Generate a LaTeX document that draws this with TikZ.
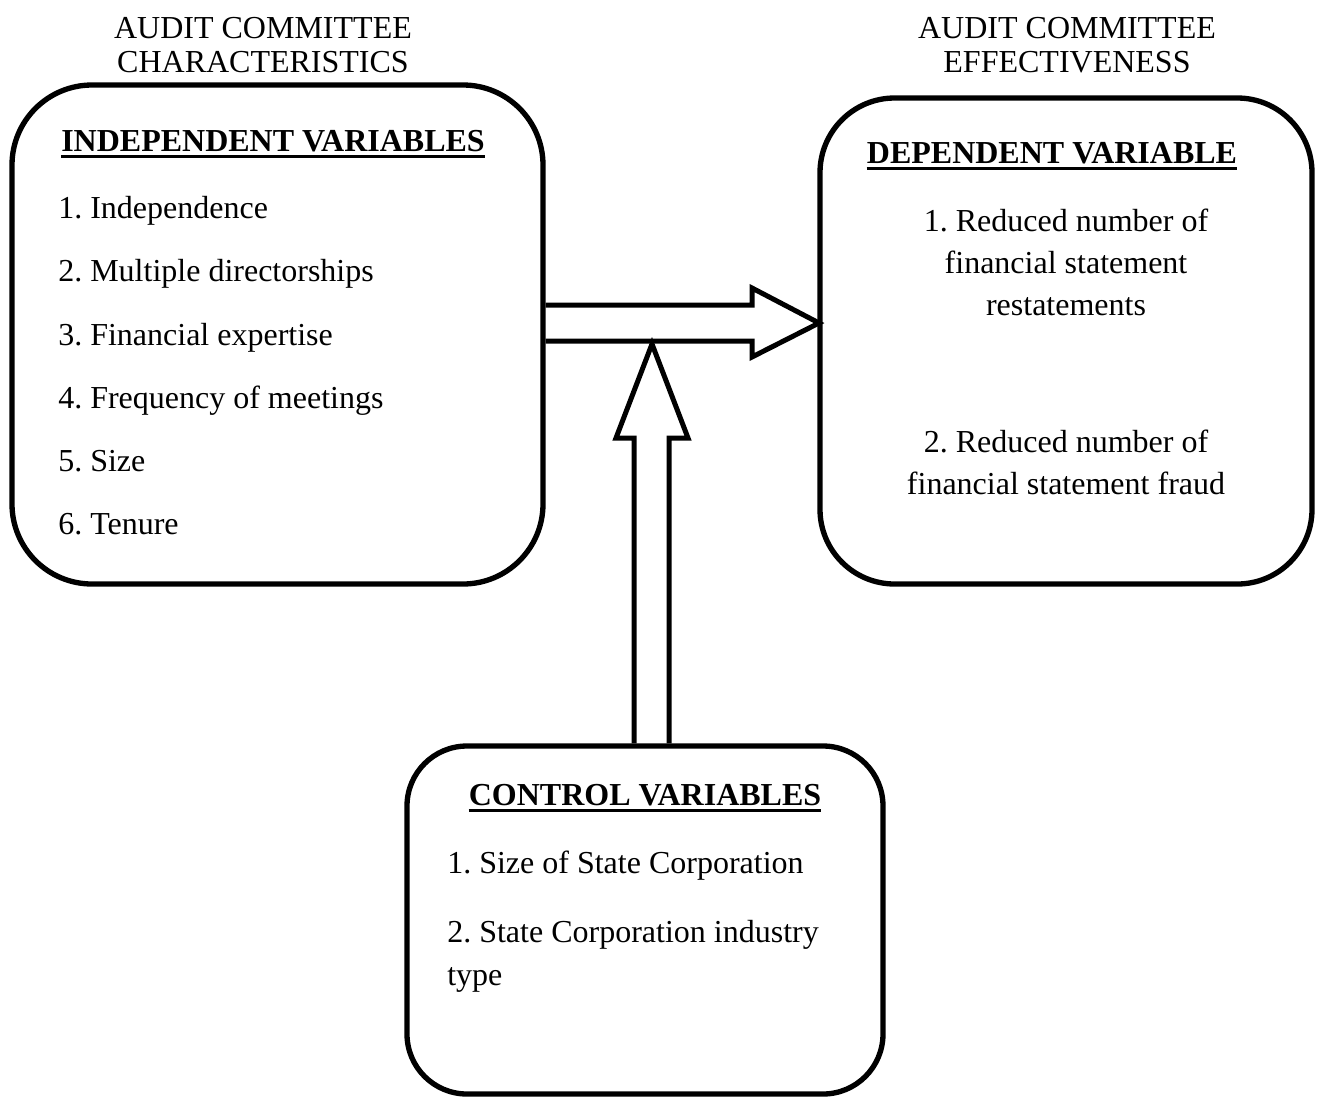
\documentclass[tikz,border=0pt]{standalone}
\usepackage{fontspec}
\setmainfont{Liberation Serif}
\frenchspacing
\begin{document}
\frenchspacing
\begin{tikzpicture}[x=0.75pt,y=-0.75pt,
  box/.style={draw, line width=4pt, rounded corners=#1, inner sep=0pt},
  txt/.style={inner sep=0pt, font=\fontsize{24}{28}\selectfont},
  hdr/.style={inner sep=0pt, font=\fontsize{24}{28}\selectfont\bfseries},
  uline/.style={line width=2pt},
  blockarrow/.style={draw, line width=3.75pt, line join=miter}]
\path[use as bounding box] (0,0) rectangle (1317,1097);

% boxes
\node[box=60pt, minimum width=531*0.75pt, minimum height=499*0.75pt] (ind) at (277.5,334.5) {};
\node[box=56pt, minimum width=492*0.75pt, minimum height=486*0.75pt] (dep) at (1066,341) {};
\node[box=45pt, minimum width=476*0.75pt, minimum height=348*0.75pt] (ctl) at (645,920) {};

% top labels
\node[txt, anchor=base] (t1a) at (263,38) {AUDIT COMMITTEE};
\node[txt, anchor=base] (t1b) at (263,72) {CHARACTERISTICS};
\node[txt, anchor=base] (t2a) at (1067,38) {AUDIT COMMITTEE};
\node[txt, anchor=base] (t2b) at (1067,72) {EFFECTIVENESS};

% left box text
\node[hdr, anchor=base west] (h1) at (61,151) {INDEPENDENT VARIABLES};
\draw[uline] ([yshift=-4pt]h1.base west) -- ([yshift=-4pt]h1.base east);
\node[txt, anchor=base west] (i1) at (58,218) {1. Independence};
\node[txt, anchor=base west] (i2) at (58,281) {2. Multiple directorships};
\node[txt, anchor=base west] (i3) at (58,345) {3. Financial expertise};
\node[txt, anchor=base west] (i4) at (58,408) {4. Frequency of meetings};
\node[txt, anchor=base west] (i5) at (58,471) {5. Size};
\node[txt, anchor=base west] (i6) at (58,534) {6. Tenure};

% right box text
\node[hdr, anchor=base] (h2) at (1052,163) {DEPENDENT VARIABLE};
\draw[uline] ([yshift=-4pt]h2.base west) -- ([yshift=-4pt]h2.base east);
\node[txt, anchor=base] (d1a) at (1066,231) {1. Reduced number of};
\node[txt, anchor=base] (d1b) at (1066,273) {financial statement};
\node[txt, anchor=base] (d1c) at (1066,315) {restatements};
\node[txt, anchor=base] (d2a) at (1066,452) {2. Reduced number of};
\node[txt, anchor=base] (d2b) at (1066,494) {financial statement fraud};

% control box text
\node[hdr, anchor=base] (h3) at (645,805) {CONTROL VARIABLES};
\draw[uline] ([yshift=-4pt]h3.base west) -- ([yshift=-4pt]h3.base east);
\node[txt, anchor=base west] (c1) at (447,873) {1. Size of State Corporation};
\node[txt, anchor=base west] (c2a) at (447,942) {2. State Corporation industry};
\node[txt, anchor=base west] (c2b) at (447,985) {type};

% block arrows
\coordinate (hs1) at (ind.east |- 0,305);
\coordinate (hs2) at (ind.east |- 0,341);
\coordinate (htip) at (819,323);
\draw[blockarrow] (hs1) -- (752,305) -- (752,288) -- (htip) -- (752,357) -- (752,341) -- (hs2);

\coordinate (vs1) at (634,0 |- ctl.north);
\coordinate (vs2) at (669,0 |- ctl.north);
\coordinate (vtip) at (652,344);
\draw[blockarrow] (vs1) -- (634,438) -- (616,438) -- (vtip) -- (688,438) -- (669,438) -- (vs2);
\end{tikzpicture}
\end{document}
